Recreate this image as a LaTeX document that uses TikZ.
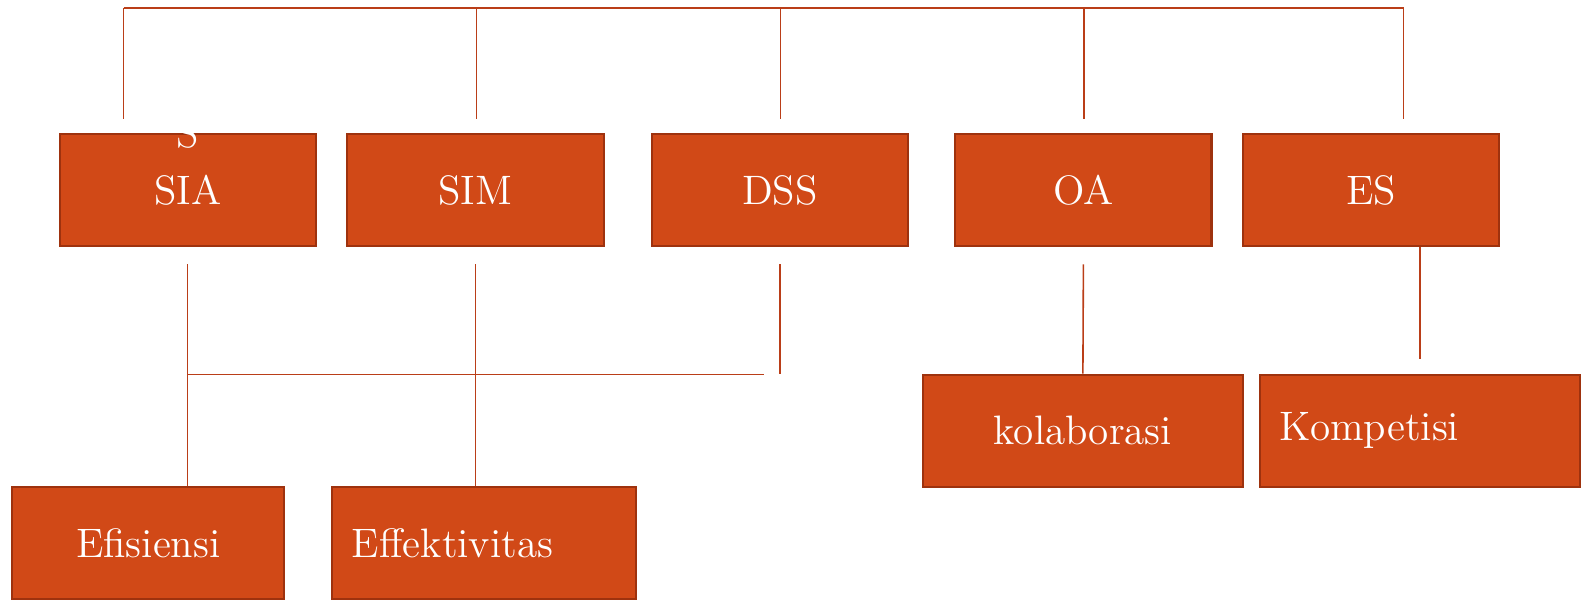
\documentclass[tikz,border=0pt]{standalone}
\usetikzlibrary{positioning}
\definecolor{boxfill}{RGB}{209,73,23}
\definecolor{boxline}{RGB}{158,50,14}
\definecolor{linkred}{RGB}{186,62,24}
\tikzset{
  box/.style={draw=boxline,fill=boxfill,line width=0.6pt,text=white,inner sep=0pt,minimum height=1.12cm,font=\fontsize{11.7}{14}\selectfont},
  link/.style={draw=linkred,line width=0.45pt}
}
\begin{document}
\begin{tikzpicture}[x=0.01cm,y=-0.01cm]
\useasboundingbox (0,0) rectangle (1587,600);
\node[box,minimum width=2.56cm] (SIA) at (187.7,190.2) {SIA};
\node[box,minimum width=2.56cm] (SIM) at (475.5,190.2) {SIM};
\node[box,minimum width=2.56cm] (DSS) at (779.8,190.2) {DSS};
\node[box,minimum width=2.56cm] (OA) at (1083.4,190.2) {OA};
\node[box,minimum width=2.56cm] (ES) at (1371.3,190.2) {ES};
\node[white,font=\fontsize{11.7}{14}\selectfont,anchor=base] (cut) at (188,147) {S};
\node[box,minimum width=3.2cm] (kol) at (1082.9,430.6) {kolaborasi};
\node[box,text width=2.8cm,inner xsep=0.2cm,align=left] (kom) at (1419.9,430.6) {Kompetisi};
\node[box,minimum width=2.72cm] (efi) at (148.3,543.4) {Efisiensi};
\node[box,text width=2.635cm,inner xsep=0.2cm,align=left] (eff) at (483.8,543.4) {Effektivitas};
\foreach \x [count=\i] in {123.5,476.7,780.3,1083.9,1403.6}{
  \coordinate (up\i) at (\x,8);
  \coordinate (dn\i) at (\x,119.4);
  \draw[link] (up\i) -- (dn\i);
}
\draw[link] (up1) -- (up5);
\coordinate (hend) at (764,374.4);
\draw[link] ([yshift=-0.17cm]SIA.south) -- (SIA.south |- efi.north);
\draw[link] ([yshift=-0.17cm]SIM.south) -- (SIM.south |- eff.north);
\draw[link] ([yshift=-0.17cm]DSS.south) -- (DSS.south |- hend);
\draw[link] (SIA.south |- hend) -- (hend);
\draw[link] ([yshift=-0.17cm]OA.south) -- (kol.north);
\draw[link] (ES.south -| kom.north) -- ([yshift=0.15cm]kom.north);
\end{tikzpicture}
\end{document}
